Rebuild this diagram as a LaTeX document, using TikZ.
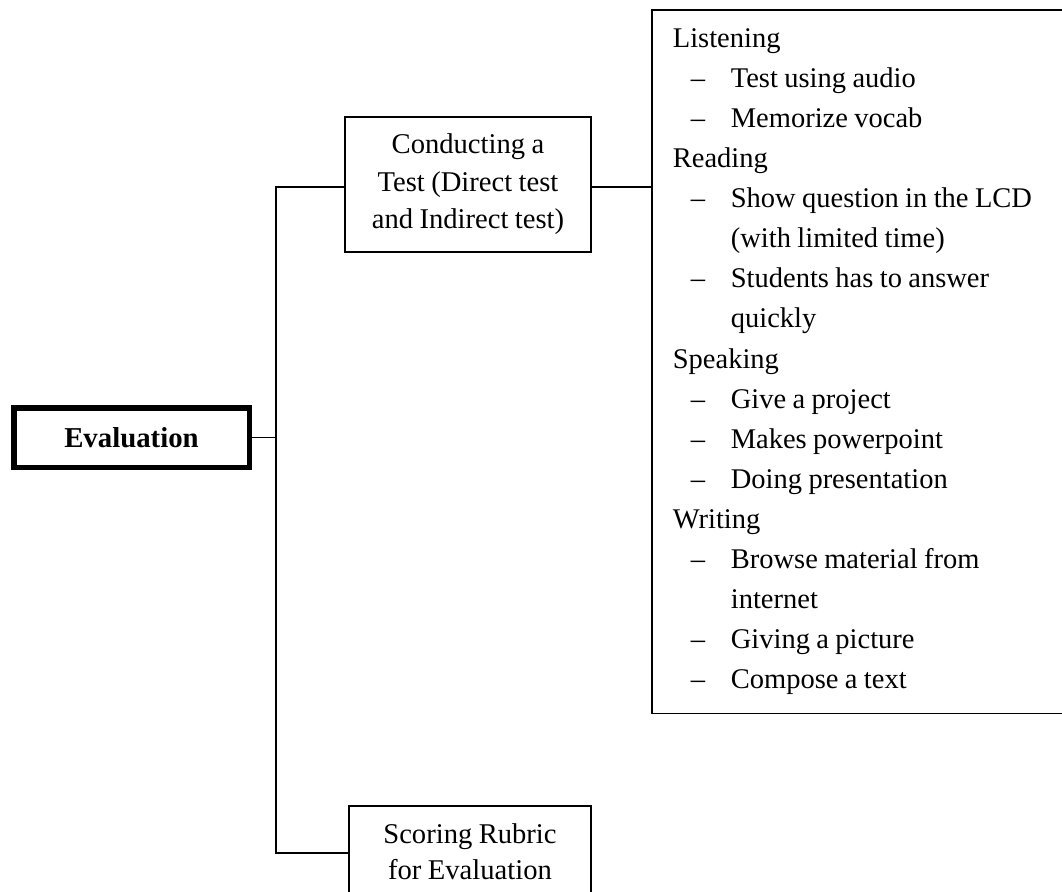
\documentclass[tikz,border=0pt]{standalone}
\usepackage{fontspec}
\setmainfont[WordSpace=0.9]{Liberation Serif}
\newcommand\natsp{\spaceskip=0pt\xspaceskip=0pt\relax}
\newcommand\litem[1]{\hspace*{18pt}\makebox[40pt][l]{\textendash}#1}
\newcommand\lcont[1]{\hspace*{58pt}#1}
\begin{document}
\begin{tikzpicture}[x=1pt,y=-1pt,
  box/.style={draw, line width=1.7pt, align=center, inner sep=0pt, font=\fontsize{28.6}{37.5}\selectfont},
  conn/.style={line width=1.7pt}]
\useasboundingbox (0,0) rectangle (1062,891);
\node[box, line width=5.5pt, minimum width=235.5pt, minimum height=59.5pt, font=\fontsize{28.8}{34}\selectfont\bfseries] (eval) at (131.5,437.5) {Evaluation};
\node[box, minimum width=246pt, minimum height=135pt] (cond) at (468,184.5) {\natsp Conducting a\\Test (Direct test\\and Indirect test)};
\node[box, anchor=north, minimum width=242pt, inner ysep=17.5pt, font=\fontsize{28.6}{36}\selectfont] (score) at (470,805) {\natsp Scoring Rubric\\for Evaluation};
\node[draw, line width=1.7pt, anchor=north west, text width=377pt, inner xsep=21pt, inner ysep=18.5pt, align=left, font=\fontsize{28.5}{40.1}\selectfont] (big) at (651,9) {\natsp
Listening\\
\litem{Test using audio}\\
\litem{Memorize vocab}\\
Reading\\
\litem{Show question in the LCD}\\
\lcont{(with limited time)}\\
\litem{Students has to answer}\\
\lcont{quickly}\\
Speaking\\
\litem{Give a project}\\
\litem{Makes powerpoint}\\
\litem{Doing presentation}\\
Writing\\
\litem{Browse material from}\\
\lcont{internet}\\
\litem{Giving a picture}\\
\litem{Compose a text}};
\coordinate (jt) at (276,187);
\coordinate (trunk) at (276,437.5);
\coordinate (jb) at (276,853);
\draw[conn] (eval.east) -- (trunk);
\draw[conn] (cond.west |- jt) -- (jt) -- (jb) -- (score.west |- jb);
\draw[conn] (cond.east |- jt) -- (big.west |- jt);
\end{tikzpicture}
\end{document}
